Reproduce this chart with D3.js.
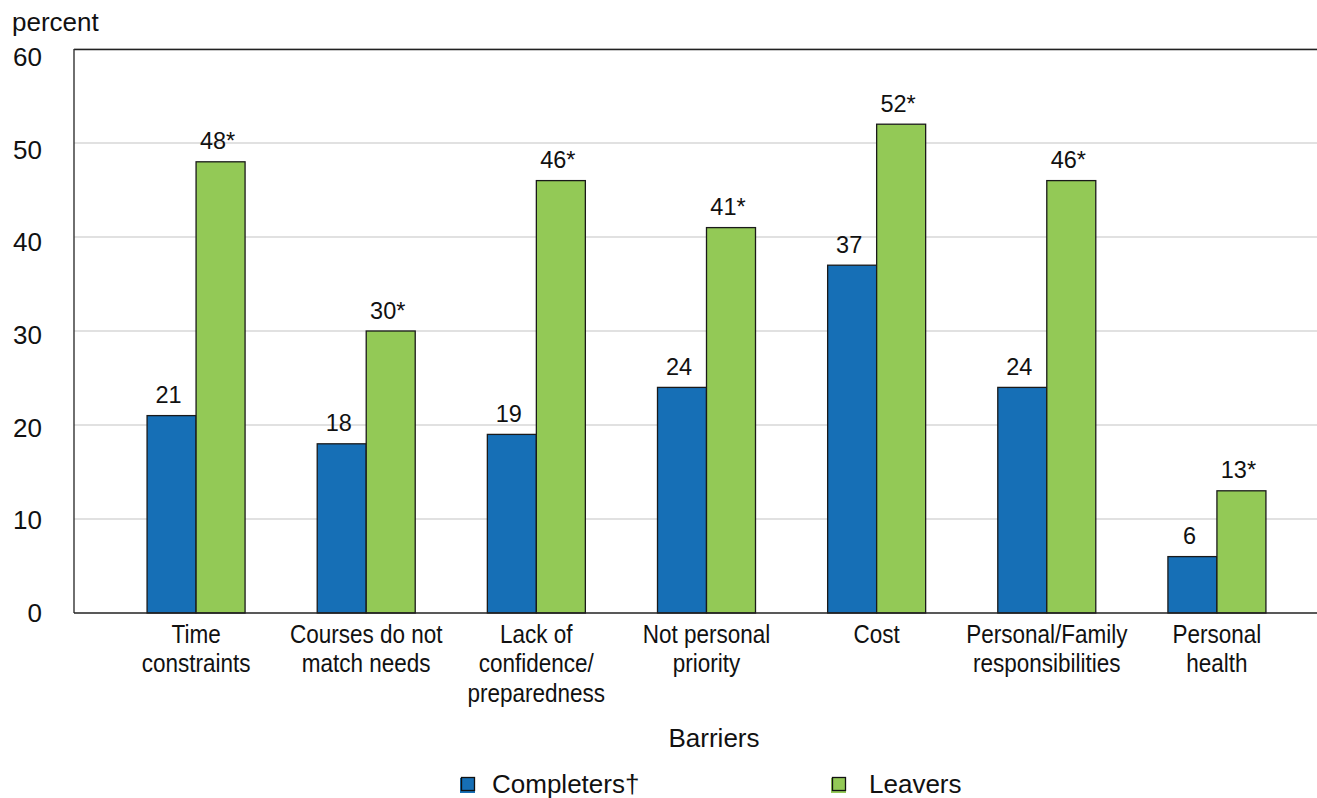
<!DOCTYPE html>
<html>
<head>
<meta charset="utf-8">
<script src="https://cdn.jsdelivr.net/npm/d3@7"></script>
<style>
  html, body { margin: 0; padding: 0; background: #fff; }
  svg { display: block; font-family: "Liberation Sans", Arial, sans-serif; }
</style>
</head>
<body>
<svg id="chart" width="1317" height="798"></svg>
<script>
// Barriers to completing a program, by group (percent)
const categories = [
  ["Time", "constraints"],
  ["Courses do not", "match needs"],
  ["Lack of", "confidence/", "preparedness"],
  ["Not personal", "priority"],
  ["Cost"],
  ["Personal/Family", "responsibilities"],
  ["Personal", "health"]
];
const completers = [21, 18, 19, 24, 37, 24, 6];
const leavers = [48, 30, 46, 41, 52, 46, 13];
const leaversSignificant = [true, true, true, true, true, true, true];
const seriesNames = ["Completers\u2020", "Leavers"];
const seriesColors = ["#166fb6", "#93c956"];
const yTicks = [0, 10, 20, 30, 40, 50, 60];

const svg = d3.select("#chart");
const plot = { left: 74, top: 49, right: 1320, bottom: 613 };

const y = d3.scaleLinear().domain([0, 60]).range([plot.bottom, plot.top]);
// tick label placement along the value axis
const yLabel = d3.scaleLinear().domain([0, 60]).range([plot.bottom, 57]);

const x0 = d3.scaleBand()
  .domain(d3.range(categories.length))
  .range([111, 1302])
  .paddingInner(0.424)
  .paddingOuter(0.212);
const x1 = d3.scaleBand().domain([0, 1]).range([0, x0.bandwidth()]);

// gridlines
svg.append("g")
  .selectAll("line")
  .data(yTicks.filter(d => d > 0))
  .join("line")
  .attr("x1", plot.left).attr("x2", plot.right)
  .attr("y1", d => y(d)).attr("y2", d => y(d))
  .attr("stroke", "#c4c4c4").attr("stroke-width", 1.2);

// frame: top and left
svg.append("line")
  .attr("x1", plot.left).attr("x2", plot.right)
  .attr("y1", plot.top + 0.5).attr("y2", plot.top + 0.5)
  .attr("stroke", "#222").attr("stroke-width", 1.4);
svg.append("line")
  .attr("x1", plot.left).attr("x2", plot.left)
  .attr("y1", plot.top).attr("y2", plot.bottom)
  .attr("stroke", "#333").attr("stroke-width", 1.4);

// y tick labels
svg.append("g")
  .selectAll("text")
  .data(yTicks)
  .join("text")
  .attr("x", 42)
  .attr("y", d => yLabel(d))
  .attr("text-anchor", "end")
  .attr("dominant-baseline", "central")
  .attr("font-size", 26)
  .attr("fill", "#111")
  .text(d => d);

svg.append("text")
  .attr("x", 12).attr("y", 31)
  .attr("font-size", 26).attr("fill", "#111")
  .text("percent");

// bars
const groups = svg.append("g")
  .selectAll("g")
  .data(categories.map((c, i) => ({ i, values: [completers[i], leavers[i]] })))
  .join("g")
  .attr("transform", d => `translate(${x0(d.i)},0)`);

groups.selectAll("rect")
  .data(d => d.values.map((v, s) => ({ v, s })))
  .join("rect")
  .attr("x", d => x1(d.s))
  .attr("width", x1.bandwidth())
  .attr("y", d => y(d.v))
  .attr("height", d => y(0) - y(d.v))
  .attr("fill", d => seriesColors[d.s])
  .attr("stroke", "#1a1a1a")
  .attr("stroke-width", 1.3);

// value labels
groups.selectAll("text.value")
  .data(d => d.values.map((v, s) => ({ v, s, star: s === 1 && leaversSignificant[d.i] })))
  .join("text")
  .attr("class", "value")
  .attr("x", d => x1(d.s) + x1.bandwidth() / 2 - 3)
  .attr("y", d => y(d.v) - 12.5)
  .attr("text-anchor", "middle")
  .attr("font-size", 23.5)
  .attr("fill", "#111")
  .text(d => d.v + (d.star ? "*" : ""));

// x axis baseline
svg.append("line")
  .attr("x1", plot.left).attr("x2", plot.right)
  .attr("y1", plot.bottom).attr("y2", plot.bottom)
  .attr("stroke", "#222").attr("stroke-width", 1.6);

// category labels (slightly condensed type)
const catLabels = svg.append("g")
  .selectAll("text")
  .data(categories.map((c, i) => ({ c, i })))
  .join("text")
  .attr("transform", d => `translate(${x0(d.i) + x0.bandwidth() / 2},0) scale(0.9,1)`)
  .attr("text-anchor", "middle")
  .attr("font-size", 25)
  .attr("fill", "#111");
catLabels.selectAll("tspan")
  .data(d => d.c)
  .join("tspan")
  .attr("x", 0)
  .attr("y", (d, k) => 643 + k * 29.5)
  .text(d => d);

svg.append("text")
  .attr("x", 714).attr("y", 747)
  .attr("text-anchor", "middle")
  .attr("font-size", 26).attr("fill", "#111")
  .text("Barriers");

// legend
const legendX = [460, 831];
const legend = svg.append("g")
  .selectAll("g")
  .data(seriesNames.map((n, s) => ({ n, s })))
  .join("g")
  .attr("transform", d => `translate(${legendX[d.s]},777)`);
legend.append("rect")
  .attr("x", 0).attr("y", 1).attr("width", 15).attr("height", 15)
  .attr("fill", d => seriesColors[d.s]);
legend.append("rect")
  .attr("x", 1.5).attr("y", 0.5).attr("width", 13).attr("height", 13)
  .attr("fill", d => seriesColors[d.s])
  .attr("stroke", "#111").attr("stroke-width", 1.3);
legend.append("text")
  .attr("x", d => d.s === 0 ? 32 : 38)
  .attr("y", 16)
  .attr("font-size", 26).attr("fill", "#111")
  .text(d => d.n);
</script>
</body>
</html>
